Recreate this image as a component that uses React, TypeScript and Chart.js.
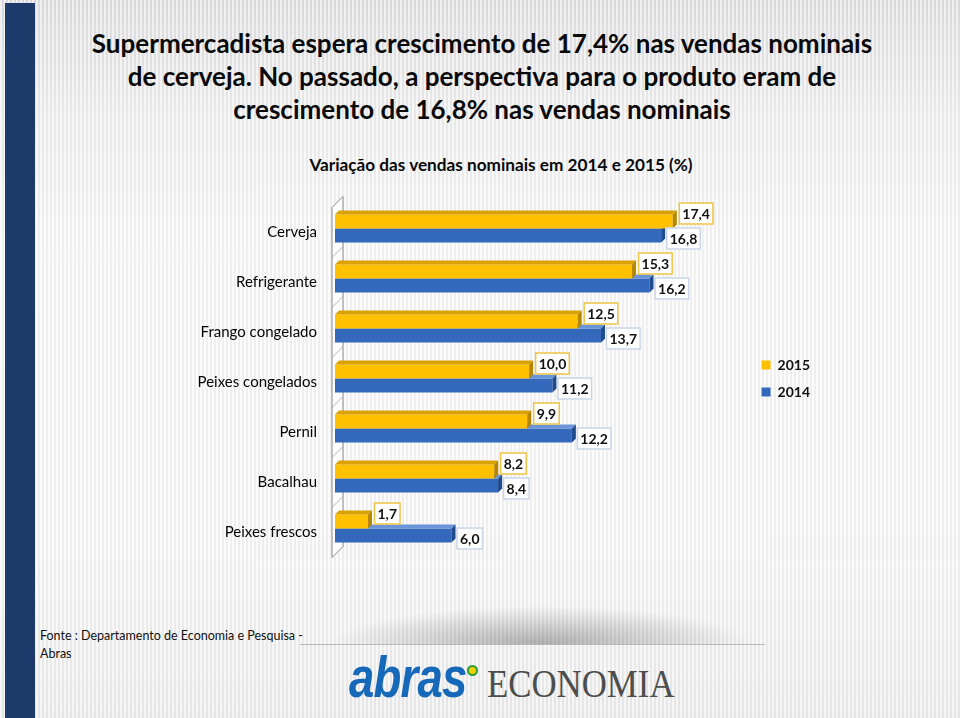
import React, { useEffect, useRef } from "react";
import { Chart, registerables } from "chart.js";

Chart.register(...registerables);

const categories = [
  "Cerveja",
  "Refrigerante",
  "Frango congelado",
  "Peixes congelados",
  "Pernil",
  "Bacalhau",
  "Peixes frescos",
];
const values2015 = [17.4, 15.3, 12.5, 10.0, 9.9, 8.2, 1.7];
const values2014 = [16.8, 16.2, 13.7, 11.2, 12.2, 8.4, 6.0];
const seriesNames = ["2015", "2014"];

const titleLines = [
  "Supermercadista espera crescimento de 17,4% nas vendas nominais",
  "de cerveja. No passado, a perspectiva para o produto eram de",
  "crescimento de 16,8% nas vendas nominais",
];
const subtitle = "Variação das vendas nominais em 2014 e 2015 (%)";
const sourceLines = ["Fonte : Departamento de Economia e Pesquisa -", "Abras"];

const FRONT = ["#FFC000", "#3368BA"];
const TOPF = ["#D9A200", "#6A95D8"];
const SIDE = ["#B58700", "#1F4A8E"];
const LABEL_BORDER = ["#EDC445", "#C9D5E6"];
const DEPTH = 4;

const fmt = (v: number) => v.toFixed(1).replace(".", ",");

const threeD = {
  id: "threeD",
  beforeDatasetsDraw(chart: any) {
    const { ctx, chartArea } = chart;
    const { left, top, bottom } = chartArea;
    ctx.save();
    ctx.beginPath();
    ctx.moveTo(left - 3, top + 4);
    ctx.lineTo(left + 8, top - 7);
    ctx.lineTo(left + 8, bottom - 7);
    ctx.lineTo(left - 3, bottom + 4);
    ctx.closePath();
    ctx.fillStyle = "#fdfdfd";
    ctx.fill();
    ctx.strokeStyle = "#8a8a8a";
    ctx.lineWidth = 1;
    ctx.stroke();
    const n = categories.length;
    const step = (bottom - top) / n;
    ctx.strokeStyle = "#b5b5b5";
    for (let i = 1; i < n; i++) {
      const yb = top + step * i;
      ctx.beginPath();
      ctx.moveTo(left - 3, yb + 4);
      ctx.lineTo(left + 8, yb - 7);
      ctx.stroke();
    }
    ctx.restore();
  },
  afterDatasetDraw(chart: any, args: any) {
    const { ctx } = chart;
    const idx = args.index;
    ctx.save();
    args.meta.data.forEach((el: any) => {
      const { x, y, base, height } = el.getProps(["x", "y", "base", "height"], true);
      const t = y - height / 2;
      const b = y + height / 2;
      ctx.fillStyle = TOPF[idx];
      ctx.beginPath();
      ctx.moveTo(base, t);
      ctx.lineTo(base + DEPTH, t - DEPTH);
      ctx.lineTo(x + DEPTH, t - DEPTH);
      ctx.lineTo(x, t);
      ctx.closePath();
      ctx.fill();
      ctx.fillStyle = SIDE[idx];
      ctx.beginPath();
      ctx.moveTo(x, t);
      ctx.lineTo(x + DEPTH, t - DEPTH);
      ctx.lineTo(x + DEPTH, b - DEPTH);
      ctx.lineTo(x, b);
      ctx.closePath();
      ctx.fill();
    });
    ctx.restore();
  },
  afterDatasetsDraw(chart: any) {
    const { ctx } = chart;
    ctx.save();
    ctx.font = "bold 14px Lato, sans-serif";
    ctx.textBaseline = "middle";
    ctx.textAlign = "left";
    chart.data.datasets.forEach((ds: any, di: number) => {
      const meta = chart.getDatasetMeta(di);
      meta.data.forEach((el: any, i: number) => {
        const { x, y, height } = el.getProps(["x", "y", "height"], true);
        const txt = fmt(ds.data[i]);
        const w = ctx.measureText(txt).width + 7;
        const h = 22;
        let bx: number, cy: number;
        if (di === 0) {
          bx = x + DEPTH + 2;
          cy = y - height / 2 - 1;
        } else {
          bx = x + DEPTH + 1;
          cy = y + 3;
        }
        ctx.fillStyle = "#ffffff";
        ctx.fillRect(bx, cy - h / 2, w, h);
        ctx.strokeStyle = LABEL_BORDER[di];
        ctx.lineWidth = 1.5;
        ctx.strokeRect(bx + 0.5, cy - h / 2 + 0.5, w - 1, h - 1);
        ctx.fillStyle = "#111111";
        ctx.fillText(txt, bx + 3.5, cy + 1);
      });
    });
    ctx.restore();
  },
};

export default function App() {
  const ref = useRef<HTMLCanvasElement>(null);

  useEffect(() => {
    if (!ref.current) return;
    const chart = new Chart(ref.current, {
      type: "bar",
      data: {
        labels: categories,
        datasets: [
          {
            label: seriesNames[0],
            data: values2015,
            backgroundColor: FRONT[0],
            borderWidth: 0,
            categoryPercentage: 0.56,
            barPercentage: 1,
          },
          {
            label: seriesNames[1],
            data: values2014,
            backgroundColor: FRONT[1],
            borderWidth: 0,
            categoryPercentage: 0.56,
            barPercentage: 1,
          },
        ],
      },
      options: {
        indexAxis: "y",
        responsive: false,
        animation: false,
        devicePixelRatio: 1,
        layout: { padding: { top: 13.5, bottom: 16.5, left: 0, right: 0 } },
        scales: {
          x: {
            display: false,
            min: 0,
            max: 21.3,
          },
          y: {
            grid: { display: false, drawTicks: false },
            border: { display: false },
            afterFit: (scale: any) => {
              scale.width = 155;
              scale.paddingTop = 0;
              scale.paddingBottom = 0;
            },
            ticks: {
              padding: 18,
              labelOffset: 4,
              color: "#050505",
              font: { family: "Lato, sans-serif", size: 15 },
            },
          },
        },
        plugins: {
          legend: {
            position: "right",
            align: "center",
            labels: {
              boxWidth: 9,
              boxHeight: 9,
              padding: 13,
              color: "#111111",
              font: { family: "Lato, sans-serif", size: 14, weight: "bold" },
            },
          },
          tooltip: { enabled: false },
        },
      },
      plugins: [threeD],
    } as any);
    return () => chart.destroy();
  }, []);

  return (
    <div
      style={{
        position: "absolute",
        left: 0,
        top: 0,
        width: 960,
        height: 718,
        overflow: "hidden",
        fontFamily: "Lato, sans-serif",
        background:
          "repeating-linear-gradient(90deg, rgba(255,255,255,0.45) 0px, rgba(255,255,255,0.45) 2px, rgba(0,0,0,0.035) 2px, rgba(0,0,0,0.035) 4px), linear-gradient(180deg, #e1e1e3 0px, #efeff0 110px, #f8f8f8 240px, #f7f7f7 560px, #ededed 718px)",
      }}
    >
      <div style={{ position: "absolute", left: 5, top: 3, width: 30, bottom: 0, background: "#1d3a6a" }} />
      <div
        style={{
          position: "absolute",
          left: 40,
          top: 27,
          width: 884,
          textAlign: "center",
          fontWeight: 700,
          fontSize: 26,
          lineHeight: "33px",
          color: "#0a0a0a",
        }}
      >
        {titleLines.map((l, i) => (
          <div key={i}>{l}</div>
        ))}
      </div>
      <div
        style={{
          position: "absolute",
          left: 200,
          top: 154,
          width: 602,
          textAlign: "center",
          fontWeight: 700,
          fontSize: 17.2,
          lineHeight: "22px",
          color: "#0a0a0a",
        }}
      >
        {subtitle}
      </div>
      <canvas
        ref={ref}
        width={640}
        height={380}
        style={{ position: "absolute", left: 180, top: 190, width: 640, height: 380 }}
      />
      <div
        style={{
          position: "absolute",
          left: 300,
          top: 606,
          width: 465,
          height: 38,
          background: "radial-gradient(ellipse 45% 100% at 52% 100%, rgba(0,0,0,0.28), rgba(0,0,0,0) 100%)",
        }}
      />
      <div style={{ position: "absolute", left: 300, top: 644, width: 465, height: 1, background: "#b8b8b8" }} />
      <div
        style={{
          position: "absolute",
          left: 40,
          top: 627,
          fontSize: 12.5,
          lineHeight: "18px",
          color: "#111",
        }}
      >
        {sourceLines.map((l, i) => (
          <div key={i}>{l}</div>
        ))}
      </div>
      <div
        style={{
          position: "absolute",
          left: 349,
          top: 649,
          fontFamily: "'Liberation Sans', Arial, sans-serif",
          fontStyle: "italic",
          fontWeight: 700,
          fontSize: 57,
          lineHeight: "57px",
          color: "#1668b8",
          transform: "scaleX(0.8)",
          transformOrigin: "left top",
          letterSpacing: -1,
        }}
      >
        abras
      </div>
      <div
        style={{
          position: "absolute",
          left: 467,
          top: 665,
          width: 7,
          height: 7,
          borderRadius: "50%",
          border: "2px solid #2a9a3a",
          background: "#f5d000",
        }}
      />
      <div
        style={{
          position: "absolute",
          left: 487,
          top: 664,
          fontFamily: "'Liberation Serif', 'Times New Roman', serif",
          fontSize: 40,
          lineHeight: "40px",
          color: "#4d4d4d",
          transform: "scaleX(0.87)",
          transformOrigin: "left top",
        }}
      >
        ECONOMIA
      </div>
    </div>
  );
}
